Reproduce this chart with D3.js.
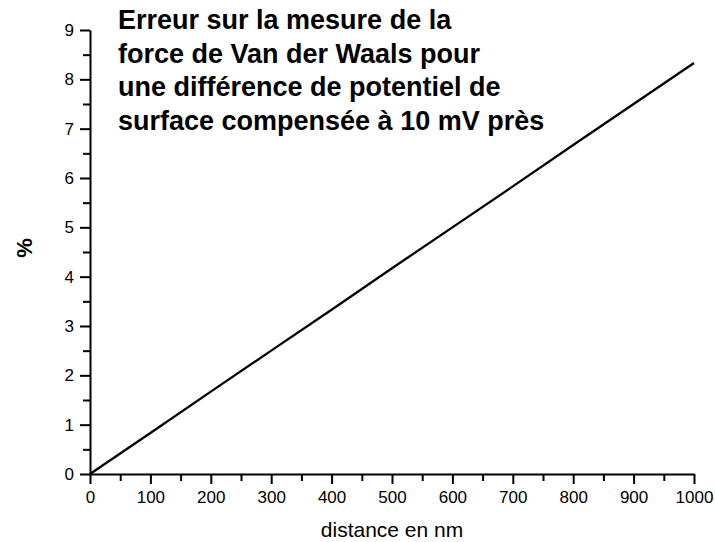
<!DOCTYPE html>
<html>
<head>
<meta charset="utf-8">
<script src="https://cdn.jsdelivr.net/npm/d3@7"></script>
<style>
	body { margin: 0; background: #fff; }
	svg { display: block; font-family: "Liberation Sans", Arial, sans-serif; }
</style>
</head>
<body>
<svg id="chart" width="715" height="542"></svg>
<script>
// values
const distance_nm = [0, 100, 200, 300, 400, 500, 600, 700, 800, 900, 1000];
const error_pct = [0, 0.83, 1.67, 2.5, 3.33, 4.17, 5.0, 5.83, 6.67, 7.5, 8.33];
const x_ticks = [0, 100, 200, 300, 400, 500, 600, 700, 800, 900, 1000];
const y_ticks = [0, 1, 2, 3, 4, 5, 6, 7, 8, 9];
const title_lines = [
	"Erreur sur la mesure de la",
	"force de Van der Waals pour",
	"une différence de potentiel de",
	"surface compensée à 10 mV près"
];

const svg = d3.select('#chart');

const x = d3.scaleLinear().domain([0, 1000]).range([90, 694]);
const y = d3.scaleLinear().domain([0, 9]).range([474, 30]);

// minor ticks first so major ones draw on top
const x_minor = d3.range(50, 1000, 100);
const y_minor = d3.range(0.5, 9, 1);

svg.append('g')
	.attr('transform', 'translate(0,474)')
	.call(d3.axisBottom(x).tickValues(x_minor).tickSize(7).tickFormat(''))
	.call(g => g.select('.domain').remove())
	.selectAll('line').attr('stroke-width', 2);

svg.append('g')
	.attr('transform', 'translate(90,0)')
	.call(d3.axisLeft(y).tickValues(y_minor).tickSize(7).tickFormat(''))
	.call(g => g.select('.domain').remove())
	.selectAll('line').attr('stroke-width', 2);

const x_axis = svg.append('g')
	.attr('transform', 'translate(0,474)')
	.call(d3.axisBottom(x).tickValues(x_ticks).tickSize(10).tickSizeOuter(0).tickPadding(7).tickFormat(d3.format('d')));
x_axis.select('.domain').attr('stroke-width', 2);
x_axis.selectAll('line').attr('stroke-width', 2);
x_axis.attr('font-size', 17);
x_axis.selectAll('text').attr('fill', '#000');

const y_axis = svg.append('g')
	.attr('transform', 'translate(90,0)')
	.call(d3.axisLeft(y).tickValues(y_ticks).tickSize(10).tickSizeOuter(0).tickPadding(6));
y_axis.select('.domain').attr('stroke-width', 2);
y_axis.selectAll('line').attr('stroke-width', 2);
y_axis.attr('font-size', 17);
y_axis.selectAll('text').attr('fill', '#000');

x_axis.attr('font-family', '"Liberation Sans", Arial, sans-serif');
y_axis.attr('font-family', '"Liberation Sans", Arial, sans-serif');

// data line
const line = d3.line()
	.x((d, i) => x(distance_nm[i]))
	.y(d => y(d));

svg.append('path')
	.datum(error_pct)
	.attr('d', line)
	.attr('fill', 'none')
	.attr('stroke', '#000')
	.attr('stroke-width', 2.3);

// axis titles
svg.append('text')
	.attr('x', 392)
	.attr('y', 537)
	.attr('text-anchor', 'middle')
	.attr('font-size', 21)
	.text('distance en nm');

svg.append('text')
	.attr('transform', 'translate(32,248) rotate(-90)')
	.attr('text-anchor', 'middle')
	.attr('font-size', 22)
	.attr('font-weight', 'bold')
	.text('%');

// title block
svg.append('g').selectAll('text')
	.data(title_lines)
	.enter()
	.append('text')
	.attr('x', 118)
	.attr('y', (d, i) => 29 + i * 33.6)
	.attr('font-size', 27)
	.attr('font-weight', 'bold')
	.text(d => d);
</script>
</body>
</html>
